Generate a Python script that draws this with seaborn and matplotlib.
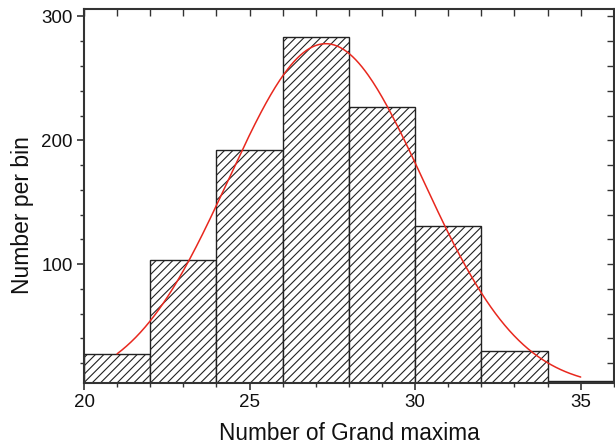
import numpy as np
import pandas as pd
import matplotlib
matplotlib.use("Agg")
import matplotlib.pyplot as plt
import seaborn as sns
from matplotlib.ticker import MultipleLocator

# Data
bin_edges = [20, 22, 24, 26, 28, 30, 32, 34, 36]
bin_counts = [27, 103, 192, 283, 227, 131, 30, 6]
# Gaussian fit parameters
fit_amp = 278.0
fit_mu = 27.3
fit_sigma = 2.93
fit_range = [21, 35]

sns.set_theme(style="white")
plt.rcParams['font.family'] = ['Liberation Sans', 'DejaVu Sans']
plt.rcParams['hatch.linewidth'] = 0.8
plt.rcParams['hatch.color'] = '#222222'

fig = plt.figure(figsize=(6.15, 4.46), dpi=100)
ax = fig.add_axes([0.1366, 0.1413, 0.8614, 0.8385])

centers = [(bin_edges[i] + bin_edges[i + 1]) / 2 for i in range(len(bin_counts))]
df = pd.DataFrame({"x": centers, "w": bin_counts})
sns.histplot(data=df, x="x", weights="w", bins=bin_edges, ax=ax,
             stat="count", element="bars", fill=True, color="white",
             edgecolor="#222222", linewidth=1.0, alpha=1.0)
for p in ax.patches:
    p.set_facecolor("white")
    p.set_hatch("////")
    p.set_edgecolor("#222222")

xs = np.linspace(fit_range[0], fit_range[1], 300)
ys = fit_amp * np.exp(-(xs - fit_mu) ** 2 / (2 * fit_sigma ** 2))
sns.lineplot(x=xs, y=ys, ax=ax, color="#e8281e", linewidth=1.1)

ax.set_xlim(20, 36)
ax.set_ylim(4, 306)
ax.xaxis.set_major_locator(MultipleLocator(5))
ax.xaxis.set_minor_locator(MultipleLocator(1))
ax.yaxis.set_major_locator(MultipleLocator(100))
ax.yaxis.set_minor_locator(MultipleLocator(20))
ax.set_yticks([100, 200, 300])

ax.tick_params(axis='both', which='major', direction='out', length=5, width=1.2,
               color='#333333', labelsize=13.5, labelcolor='#111111', pad=3,
               bottom=True, left=True)
ax.tick_params(axis='both', which='minor', direction='out', length=3, width=1.0,
               color='#333333', bottom=True, left=True)

for s in ax.spines.values():
    s.set_color('#333333')
    s.set_linewidth(1.5)

# top and right inward ticks
sx = ax.secondary_xaxis('top')
sx.xaxis.set_major_locator(MultipleLocator(5))
sx.xaxis.set_minor_locator(MultipleLocator(1))
sx.tick_params(which='both', direction='in', length=5, width=1.0, color='#333333',
               labeltop=False)
sx.spines['top'].set_visible(False)
sy = ax.secondary_yaxis('right')
sy.yaxis.set_major_locator(MultipleLocator(100))
sy.yaxis.set_minor_locator(MultipleLocator(20))
sy.tick_params(which='both', direction='in', length=5, width=1.0, color='#333333',
               labelright=False)
sy.spines['right'].set_visible(False)

ax.set_xlabel("Number of Grand maxima", fontsize=16.3, color='#111111')
ax.set_ylabel("Number per bin", fontsize=16.5, color='#111111')
ax.xaxis.set_label_coords(0.5, -0.105)
ax.yaxis.set_label_coords(-0.094, 0.45)

fig.savefig("out.png", dpi=100)
